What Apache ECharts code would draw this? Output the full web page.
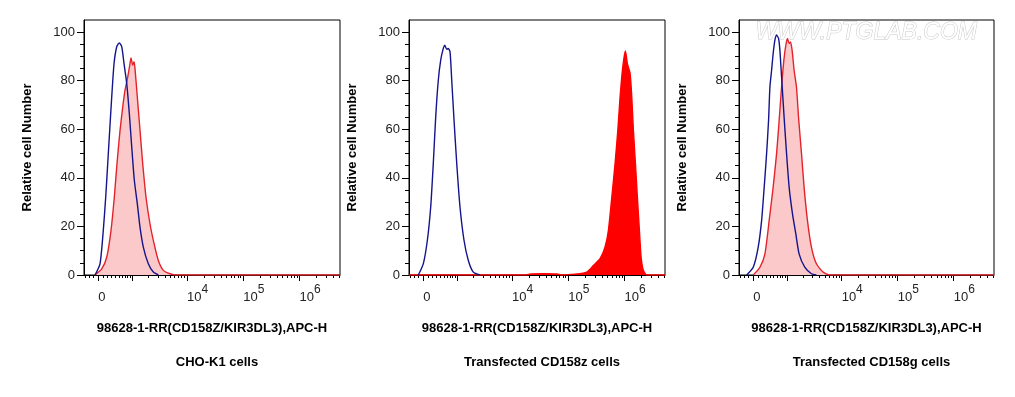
<!DOCTYPE html>
<html>
<head>
<meta charset="utf-8">
<script src="https://cdn.jsdelivr.net/npm/echarts@6/dist/echarts.min.js"></script>
<style>
html, body { margin: 0; padding: 0; background: #fff; }
#chart { width: 1015px; height: 397px; }
</style>
</head>
<body>
<div id="chart"></div>
<script>
// x values are positions on the biexponential display axis (1 unit = 1 decade, 10^4 -> 4)
const Z0 = 2.42;        // where "0" sits
const X_MIN = 2.167;
const X_MAX = 6.72;

const subtitles = ['CHO-K1 cells', 'Transfected CD158z cells', 'Transfected CD158g cells'];
const xTitle = '98628-1-RR(CD158Z/KIR3DL3),APC-H';
const yTitle = 'Relative cell Number';
const yTicks = [0, 20, 40, 60, 80, 100];
const decadeLabels = [4, 5, 6];

// panel 1 - CHO-K1
const p1BlueX = [2.363, 2.452, 2.510, 2.553, 2.589, 2.624, 2.660, 2.701, 2.749, 2.795, 2.838, 2.879, 2.927, 2.973, 3.016, 3.062, 3.115, 3.163, 3.222, 3.311, 3.400, 3.489];
const p1BlueY = [0, 4.6, 18.3, 32, 45.9, 59.6, 73.3, 87, 94, 95.6, 94, 87, 78.8, 66.5, 52.7, 39, 29.4, 19.7, 11.5, 4.6, 1.2, 0];
const p1RedX = [2.363, 2.482, 2.571, 2.647, 2.706, 2.754, 2.808, 2.856, 2.896, 2.945, 2.985, 3.003, 3.033, 3.057, 3.074, 3.115, 3.163, 3.211, 3.270, 3.341, 3.413, 3.489, 3.578, 3.697, 3.816, 6.72];
const p1RedY = [0, 2.5, 7.3, 18.3, 32, 45.9, 59.6, 69.2, 76, 81.6, 87, 89.4, 86.4, 87.8, 85, 73.3, 59.6, 45.9, 32, 21, 12.9, 6, 1.9, 0.5, 0, 0];

// panel 2 - transfected CD158z
const p2BlueX = [2.333, 2.421, 2.493, 2.553, 2.599, 2.642, 2.688, 2.731, 2.777, 2.802, 2.838, 2.866, 2.897, 2.927, 2.968, 3.016, 3.074, 3.146, 3.222, 3.311, 3.430];
const p2BlueY = [0, 4.6, 14.2, 28, 45.9, 65.1, 80.2, 88.5, 93.3, 94.6, 92.9, 93.3, 91.9, 80.2, 63.7, 45.9, 28, 14.2, 6, 1.2, 0];
const p2RedX = [2.167, 4.25, 4.33, 4.55, 4.80, 4.88, 5.032, 5.210, 5.329, 5.446, 5.565, 5.654, 5.713, 5.774, 5.832, 5.881, 5.921, 5.957, 5.993, 6.016, 6.051, 6.099, 6.129, 6.158, 6.194, 6.229, 6.265, 6.295, 6.336, 6.396, 6.72];
const p2RedY = [0, 0, 0.4, 0.5, 0.4, 0, 0.2, 0.5, 1.2, 3.9, 6.7, 11.5, 18.3, 32, 45.9, 59.6, 73.3, 83, 89.8, 92.3, 87, 83, 73.3, 59.6, 45.9, 32, 18.3, 7.3, 1.9, 0, 0];

// panel 3 - transfected CD158g
const p3BlueX = [2.304, 2.421, 2.510, 2.571, 2.617, 2.660, 2.695, 2.719, 2.749, 2.777, 2.808, 2.838, 2.873, 2.897, 2.927, 2.968, 3.016, 3.062, 3.122, 3.181, 3.240, 3.341, 3.460, 3.549];
const p3BlueY = [0, 3.2, 11.5, 22.5, 36.2, 50, 63.7, 77.4, 84.3, 91.2, 96.7, 98.8, 97.4, 92.6, 81.6, 66.5, 50, 36.2, 25.2, 17, 8.7, 3.2, 0.5, 0];
const p3RedX = [2.421, 2.541, 2.630, 2.706, 2.777, 2.838, 2.884, 2.927, 2.968, 3.003, 3.033, 3.062, 3.087, 3.115, 3.151, 3.193, 3.234, 3.283, 3.329, 3.389, 3.460, 3.549, 3.667, 3.786, 6.72];
const p3RedY = [0, 3.2, 8.7, 22.5, 36.2, 50, 63.7, 77.4, 88.5, 94.6, 97.4, 95.3, 96, 92.6, 84.3, 77.4, 63.7, 50, 36.2, 22.5, 11.5, 4.6, 1.2, 0, 0];

const FONT = '"Liberation Sans", Arial, sans-serif';
const grids = [
  { left: 84, top: 20, width: 256, height: 255 },
  { left: 409, top: 20, width: 256, height: 255 },
  { left: 739, top: 20, width: 255, height: 255 }
];

// biexponential-like position for tick marks
function biex(v) {
  return Z0 + Math.asinh(v / (2 * Math.pow(10, Z0))) / Math.LN10;
}
const majorTicks = [biex(0), biex(1e3), biex(1e4), biex(1e5), biex(1e6)];
const labelTicks = [biex(0)].concat(decadeLabels);
const minorTicks = [];
[-300, -200, -100].forEach(v => minorTicks.push(biex(v)));
for (let k = 2; k <= 6; k++) {
  for (let m = 1; m <= 9; m++) {
    const p = biex(m * Math.pow(10, k));
    if (p < X_MAX) minorTicks.push(p);
  }
}
const yMinor = [];
for (let v = 5; v <= 100; v += 5) yMinor.push(v);

const zip = (xs, ys) => xs.map((x, i) => [x, ys[i]]);
const panels = [
  { blue: zip(p1BlueX, p1BlueY), red: zip(p1RedX, p1RedY), solid: false },
  { blue: zip(p2BlueX, p2BlueY), red: zip(p2RedX, p2RedY), solid: true },
  { blue: zip(p3BlueX, p3BlueY), red: zip(p3RedX, p3RedY), solid: false }
];

const xAxis = [], yAxis = [], series = [], title = [];
panels.forEach((p, i) => {
  xAxis.push({
    type: 'value', gridIndex: i, min: X_MIN, max: X_MAX, position: 'bottom',
    axisLine: { show: true, onZero: false, lineStyle: { color: '#000', width: 1 } },
    splitLine: { show: false },
    axisTick: { customValues: majorTicks, length: 6, lineStyle: { color: '#000' } },
    axisLabel: {
      customValues: labelTicks, margin: 9, color: '#222', align: 'left',
      formatter: function (v) {
        if (Math.abs(v - Z0) < 0.01) return '{n|0}{s| }';
        return '{n|10}{s|' + Math.round(v) + '}';
      },
      rich: {
        n: { fontSize: 13, fontFamily: FONT, color: '#222' },
        s: { fontSize: 12, fontFamily: FONT, color: '#222', padding: [0, 0, 14, 0] }
      }
    },
    name: xTitle, nameLocation: 'middle', nameGap: 47,
    nameTextStyle: { fontFamily: FONT, fontSize: 13, fontWeight: 'bold', color: '#000' }
  });
  xAxis.push({
    type: 'value', gridIndex: i, min: X_MIN, max: X_MAX, position: 'bottom',
    axisLine: { show: false, onZero: false }, splitLine: { show: false }, axisLabel: { show: false },
    axisTick: { customValues: minorTicks, length: 3, lineStyle: { color: '#000' } }
  });
  yAxis.push({
    type: 'value', gridIndex: i, min: 0, max: 105, position: 'left',
    axisLine: { show: true, onZero: false, lineStyle: { color: '#000', width: 1 } },
    splitLine: { show: false },
    axisTick: { customValues: yTicks, length: 7, lineStyle: { color: '#000' } },
    axisLabel: { customValues: yTicks, margin: 9, color: '#222', fontSize: 13, fontFamily: FONT },
    name: yTitle, nameLocation: 'middle', nameGap: 50,
    nameTextStyle: { fontFamily: FONT, fontSize: 13, fontWeight: 'bold', color: '#000' }
  });
  yAxis.push({
    type: 'value', gridIndex: i, min: 0, max: 105, position: 'left',
    axisLine: { show: false, onZero: false }, splitLine: { show: false }, axisLabel: { show: false },
    axisTick: { customValues: yMinor, length: 4, lineStyle: { color: '#000' } }
  });
  series.push({
    type: 'line', xAxisIndex: 2 * i, yAxisIndex: 2 * i, data: p.red,
    symbol: 'none', smooth: 0.2, z: 2,
    lineStyle: { color: p.solid ? '#ff0000' : '#e3232b', width: 1.4 },
    areaStyle: { color: p.solid ? '#ff0000' : '#fbc9c9', opacity: 1 }
  });
  series.push({
    type: 'line', xAxisIndex: 2 * i, yAxisIndex: 2 * i, data: p.blue,
    symbol: 'none', smooth: 0.2, z: 3,
    lineStyle: { color: '#14148c', width: 1.4 }
  });
  title.push({
    text: subtitles[i], left: grids[i].left + grids[i].width / 2, top: 351,
    textAlign: 'center',
    textStyle: { fontFamily: FONT, fontSize: 13, fontWeight: 'bold', color: '#000' }
  });
});

const chart = echarts.init(document.getElementById('chart'));
chart.setOption({
  animation: false,
  backgroundColor: '#fff',
  title: title,
  grid: grids.map(g => Object.assign({ show: true, borderColor: '#000', borderWidth: 1, backgroundColor: '#fff' }, g)),
  xAxis: xAxis,
  yAxis: yAxis,
  series: series,
  graphic: [{
    type: 'text', left: 755, top: 21, z: 1,
    style: {
      text: 'WWW.PTGLAB.COM', font: 'italic 23px "Liberation Sans", Arial, sans-serif',
      fill: '#ffffff', stroke: '#c8c8c8', lineWidth: 1
    }
  }]
});
</script>
</body>
</html>
